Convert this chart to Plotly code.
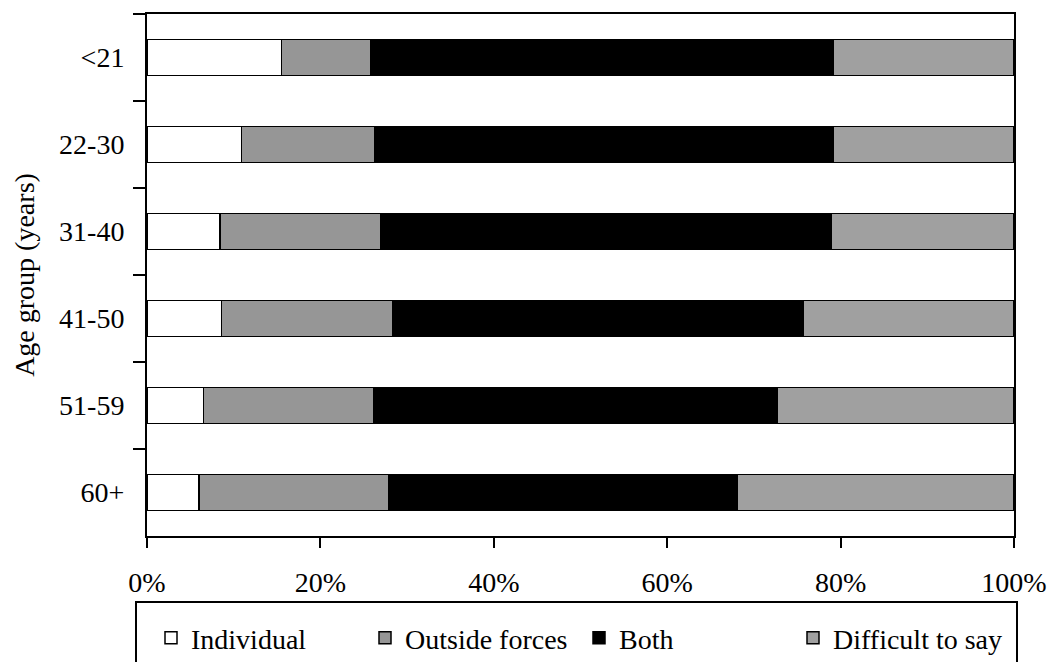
import plotly.graph_objects as go

age_groups = ["<21", "22-30", "31-40", "41-50", "51-59", "60+"]
individual = [15.5, 10.9, 8.4, 8.6, 6.5, 6.0]
outside_forces = [10.3, 15.4, 18.6, 19.8, 19.6, 21.9]
both = [53.3, 52.8, 51.9, 47.3, 46.6, 40.2]
difficult = [20.9, 20.9, 21.1, 24.3, 27.3, 31.9]
x_ticks = [0, 20, 40, 60, 80, 100]
x_tick_labels = ["0%", "20%", "40%", "60%", "80%", "100%"]

series = [
    ("Individual", individual, "#ffffff"),
    ("Outside forces", outside_forces, "#969696"),
    ("Both", both, "#000000"),
    ("Difficult to say", difficult, "#a0a0a0"),
]

FONT = "Liberation Serif, Times New Roman, serif"

fig = go.Figure()
for name, vals, color in series:
    fig.add_trace(go.Bar(
        y=age_groups, x=vals, name=name, orientation="h",
        marker=dict(color=color, line=dict(color="black", width=1.5)),
        width=0.414,
    ))

W, H = 1047, 662
L, R, T, B = 147, 33, 14, 126
pw = W - L - R
ph = H - T - B

def px_to_paper_x(px):
    return (px - L) / pw

def px_to_paper_y(py):
    return (H - B - py) / ph

fig.update_layout(
    width=W, height=H,
    margin=dict(l=L, r=R, t=T, b=B, autoexpand=False),
    barmode="stack",
    plot_bgcolor="white", paper_bgcolor="white",
    font=dict(family=FONT, size=28, color="black"),
    showlegend=True,
    legend=dict(
        orientation="h",
        x=px_to_paper_x(151), xanchor="left",
        y=px_to_paper_y(638), yanchor="middle",
        font=dict(family=FONT, size=28, color="black"),
        bgcolor="rgba(0,0,0,0)",
        borderwidth=0,
        entrywidth=169, entrywidthmode="pixels",
        traceorder="normal",
    ),
    xaxis=dict(
        range=[0, 100], tickvals=x_ticks, ticktext=x_tick_labels,
        showgrid=False, zeroline=False, automargin=False,
        showline=True, linecolor="black", linewidth=2, mirror=True,
        ticks="outside", ticklen=10, tickwidth=2, tickcolor="black",
        ticklabelstandoff=10,
        fixedrange=True,
    ),
    yaxis=dict(
        categoryorder="array", categoryarray=age_groups,
        range=[5.5, -0.5], automargin=False,
        showgrid=False, zeroline=False,
        showline=True, linecolor="black", linewidth=2, mirror=True,
        ticks="outside", ticklen=12, tickwidth=2, tickcolor="black",
        tickson="boundaries",
        ticklabelstandoff=15,
        title=dict(text="Age group (years)", font=dict(family=FONT, size=28), standoff=16),
    ),
    shapes=[dict(
        type="rect", xref="paper", yref="paper",
        x0=px_to_paper_x(136), x1=px_to_paper_x(1017),
        y0=px_to_paper_y(602), y1=px_to_paper_y(720),
        line=dict(color="black", width=2), fillcolor="rgba(0,0,0,0)",
        layer="above",
    )],
)

fig.write_html("out.html", post_script="document.body.style.margin='0';",
               config={"displayModeBar": False})
